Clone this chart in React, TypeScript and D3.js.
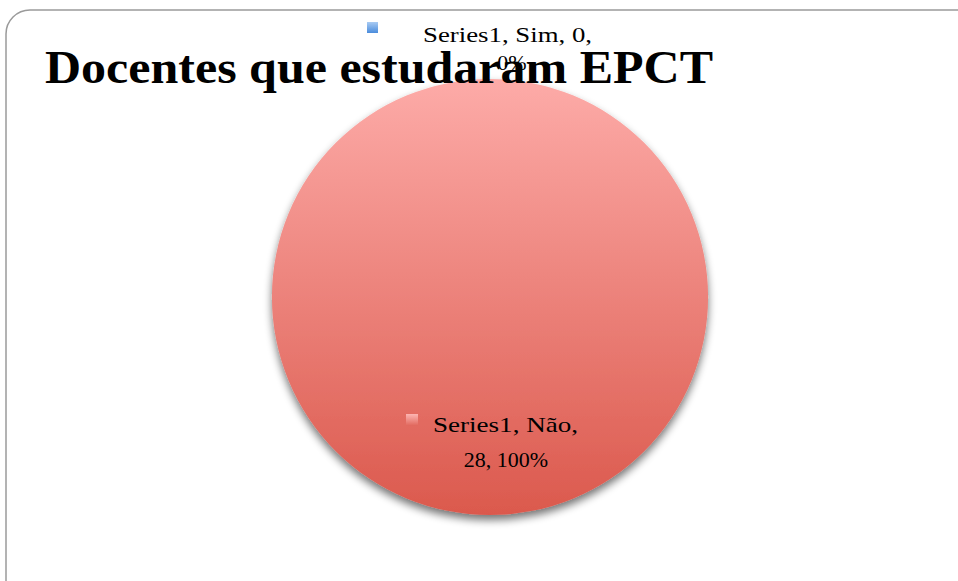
import React from "react";
import * as d3 from "d3";

const categories = ["Sim", "Não"];
const values = [0, 28];
const percents = ["0%", "100%"];
const seriesName = "Series1";
const title = "Docentes que estudaram EPCT";

export default function App() {
  const W = 958, H = 581;
  const cx = 490, cy = 297, r = 218;
  const pie = d3.pie<number>().sort(null).startAngle(0).endAngle(2 * Math.PI)(values);
  const arc = d3.arc<d3.PieArcDatum<number>>().innerRadius(0).outerRadius(r);
  const fills = ["url(#gBlue)", "url(#gRed)"];
  const serif = "'Liberation Serif', 'DejaVu Serif', serif";
  return (
    <svg width={W} height={H} style={{ position: "absolute", left: 0, top: 0 }}>
      <defs>
        <linearGradient id="gRed" x1="0" y1="0" x2="0" y2="1">
          <stop offset="0" stopColor="#FDABA8" />
          <stop offset="1" stopColor="#DB594D" />
        </linearGradient>
        <linearGradient id="gBlue" x1="0" y1="0" x2="0" y2="1">
          <stop offset="0" stopColor="#A9CBF3" />
          <stop offset="1" stopColor="#4A8CDC" />
        </linearGradient>
        <linearGradient id="sqRed" x1="0" y1="0" x2="0" y2="1">
          <stop offset="0" stopColor="#FDB5B2" />
          <stop offset="1" stopColor="#E0665B" />
        </linearGradient>
        <filter id="shadow" x="-20%" y="-20%" width="140%" height="150%">
          <feGaussianBlur in="SourceAlpha" stdDeviation="4" />
          <feOffset dx="0" dy="5" result="b" />
          <feComponentTransfer><feFuncA type="linear" slope="0.55" /></feComponentTransfer>
          <feMerge><feMergeNode /><feMergeNode in="SourceGraphic" /></feMerge>
        </filter>
      </defs>
      <rect x={0} y={0} width={W} height={H} fill="#fff" />
      <rect x={6} y={10} width={990} height={620} rx={24} ry={24} fill="none" stroke="#9a9a9a" strokeWidth={1.5} />
      <g transform={`translate(${cx},${cy})`} filter="url(#shadow)">
        {pie.map((d, i) => (
          d.endAngle - d.startAngle > 0 ? <path key={i} d={arc(d) || ""} fill={fills[i]} /> : null
        ))}
      </g>
      <text x={45} y={83} fontFamily={serif} fontWeight="bold" fontSize={46} textLength={668} lengthAdjust="spacingAndGlyphs" fill="#000">{title}</text>
      <rect x={367} y={22} width={11} height={11} fill="url(#gBlue)" />
      <text x={423} y={42} fontFamily={serif} fontSize={22} textLength={169} lengthAdjust="spacingAndGlyphs" fill="#000">{`${seriesName}, ${categories[0]}, ${values[0]},`}</text>
      <text x={512} y={70} fontFamily={serif} fontSize={22} textAnchor="middle" fill="#000">{percents[0]}</text>
      <rect x={406} y={414} width={12} height={12} fill="url(#sqRed)" />
      <text x={433} y={432} fontFamily={serif} fontSize={22} textLength={145} lengthAdjust="spacingAndGlyphs" fill="#000">{`${seriesName}, ${categories[1]},`}</text>
      <text x={506} y={467} fontFamily={serif} fontSize={22} textAnchor="middle" fill="#000">{`${values[1]}, ${percents[1]}`}</text>
    </svg>
  );
}
